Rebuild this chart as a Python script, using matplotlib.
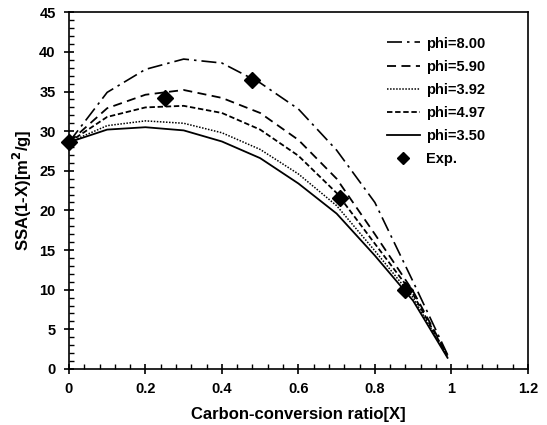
import matplotlib
matplotlib.use("Agg")
import matplotlib.pyplot as plt
from matplotlib.ticker import MultipleLocator, FuncFormatter

plt.rcParams['font.family'] = ['Liberation Sans', 'DejaVu Sans']
plt.rcParams['font.weight'] = 'bold'

X = [0, 0.1, 0.2, 0.3, 0.4, 0.5, 0.6, 0.7, 0.8, 0.9, 0.99]
phi_800 = [28.6, 34.9, 37.8, 39.1, 38.6, 36.1, 32.8, 27.6, 21.0, 11.0, 1.8]
phi_590 = [28.6, 32.9, 34.6, 35.2, 34.2, 32.3, 28.9, 24.0, 17.0, 9.8, 1.7]
phi_392 = [28.6, 30.7, 31.3, 31.0, 29.8, 27.7, 24.6, 20.6, 14.9, 9.0, 1.5]
phi_497 = [28.6, 31.8, 33.0, 33.2, 32.3, 30.2, 26.9, 22.2, 15.8, 9.4, 1.6]
phi_350 = [28.6, 30.2, 30.5, 30.1, 28.7, 26.6, 23.4, 19.6, 14.3, 8.6, 1.4]

exp_x = [0, 0.25, 0.48, 0.71, 0.88]
exp_y = [28.6, 34.2, 36.4, 21.6, 10.0]

fig = plt.figure(figsize=(5.47, 4.25), dpi=100)
ax = fig.add_axes([0.126, 0.132, 0.839, 0.839])

ax.plot(X, phi_800, color='black', lw=1.2, dashes=(9, 3, 1.5, 3), label='phi=8.00')
ax.plot(X, phi_590, color='black', lw=1.3, dashes=(5, 3), label='phi=5.90')
ax.plot(X, phi_392, color='black', lw=1.1, dashes=(1, 1), label='phi=3.92')
ax.plot(X, phi_497, color='black', lw=1.3, dashes=(3, 1.5), label='phi=4.97')
ax.plot(X, phi_350, color='black', lw=1.3, linestyle='-', label='phi=3.50')
ax.plot(exp_x, exp_y, linestyle='none', marker='D', color='black', markersize=8, label='Exp.', clip_on=False, zorder=5)

ax.set_xlim(0, 1.2)
ax.set_ylim(0, 45)
ax.xaxis.set_major_locator(MultipleLocator(0.2))
ax.xaxis.set_minor_locator(MultipleLocator(0.04))
ax.yaxis.set_major_locator(MultipleLocator(5))
ax.yaxis.set_minor_locator(MultipleLocator(1))
ax.xaxis.set_major_formatter(FuncFormatter(lambda v, p: ('%g' % round(v, 2))))
ax.yaxis.set_major_formatter(FuncFormatter(lambda v, p: ('%g' % v)))

ax.tick_params(which='major', direction='inout', length=7, width=1.2, labelsize=10.5, pad=6)
ax.tick_params(which='minor', direction='in', length=3.5, width=1.0)
for lab in ax.get_xticklabels() + ax.get_yticklabels():
    lab.set_fontweight('bold')
for s in ax.spines.values():
    s.set_linewidth(1.2)

ax.set_xlabel('Carbon-conversion ratio[X]', fontsize=12, fontweight='bold', labelpad=8)
ax.set_ylabel('SSA(1-X)[m$^{\\mathbf{2}}$/g]', fontsize=12, fontweight='bold', labelpad=4)

leg = ax.legend(loc='upper left', bbox_to_anchor=(0.692, 0.932), frameon=False,
                borderpad=0, borderaxespad=0, markerscale=0.75,
                fontsize=10.5, handlelength=2.3, handletextpad=0.4, labelspacing=0.62)
for t in leg.get_texts():
    t.set_fontweight('bold')

fig.savefig('out.png', dpi=100)
